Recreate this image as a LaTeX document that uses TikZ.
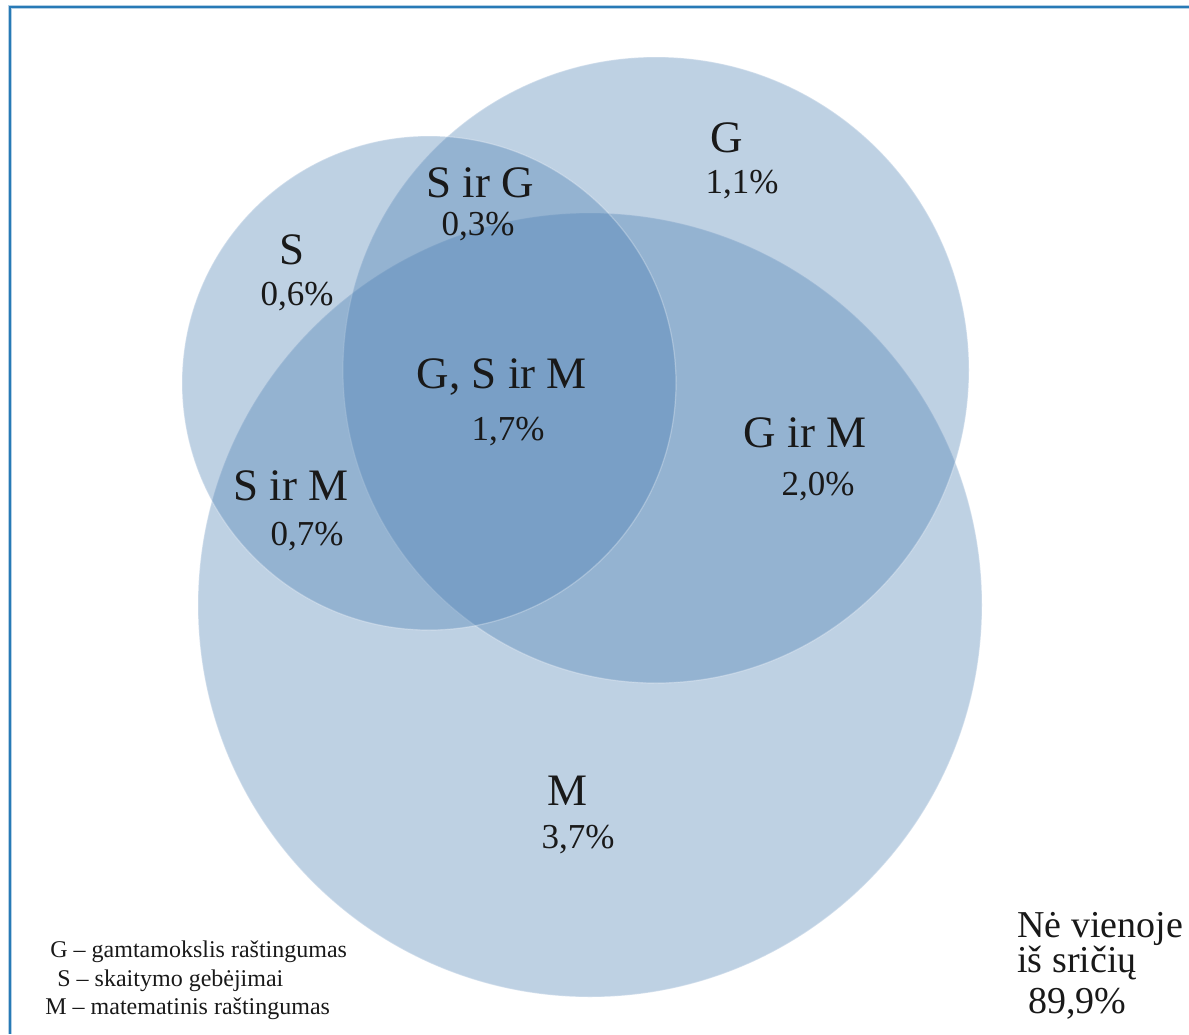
\documentclass[tikz,border=0pt]{standalone}
\usepackage{fontspec}
\setmainfont{Liberation Serif}
\definecolor{vennfill}{RGB}{70,123,176}
\definecolor{framecol}{RGB}{40,122,182}
\tikzset{
  venn/.style={fill=vennfill,fill opacity=0.35,draw=white,draw opacity=0.28,line width=0.6pt},
  lab/.style={anchor=base,inner sep=0pt,font=\fontsize{22.5}{27}\selectfont,text=black!90},
  num/.style={anchor=base,inner sep=0pt,font=\fontsize{17.5}{21}\selectfont,text=black!90},
  leg/.style={anchor=base west,inner sep=0pt,font=\fontsize{12}{14}\selectfont,text=black!90},
  rest/.style={anchor=base west,inner sep=0pt,font=\fontsize{19}{22}\selectfont,text=black!90}
}
\begin{document}
\begin{tikzpicture}[x=0.5pt,y=-0.5pt]
\useasboundingbox (0,0) rectangle (1189,1034);
\coordinate (tr) at (1189,7);
\coordinate (tl) at (10,7);
\coordinate (bl) at (10,1034);
\draw[framecol!35,line width=2.4pt] (tr) -- (tl) -- (bl);
\draw[framecol,line width=1.2pt] (tr) -- (tl) -- (bl);
% circles
\path[venn] (590,605) circle[radius=196pt];
\path[venn] (656,370) circle[radius=156.5pt];
\path[venn] (429,383) circle[radius=123.5pt];
% labels
\node[lab] (g) at (727,152) {G};
\node[num] (gv) at (742,193) {1,1\%};
\node[lab] (sg) at (480,197) {S ir G};
\node[num] (sgv) at (478,235) {0,3\%};
\node[lab] (s) at (292,264) {S};
\node[num] (sv) at (297,305) {0,6\%};
\node[lab] (gsm) at (502,388) {G, S ir M};
\node[num] (gsmv) at (508,440) {1,7\%};
\node[lab] (gm) at (805,447) {G ir M};
\node[num] (gmv) at (818,495) {2,0\%};
\node[lab] (sm) at (291,500) {S ir M};
\node[num] (smv) at (307,545) {0,7\%};
\node[lab] (m) at (567,805) {M};
\node[num] (mv) at (578,848) {3,7\%};
% legend
\node[leg] (l1) at (50,957) {G – gamtamokslis raštingumas};
\node[leg] (l2) at (57,986) {S – skaitymo gebėjimai};
\node[leg] (l3) at (45,1014) {M – matematinis raštingumas};
% none
\node[rest] (n1) at (1017,937) {Nė vienoje};
\node[rest] (n2) at (1017,972) {iš sričių};
\node[rest] (n3) at (1028,1013) {89,9\%};
\end{tikzpicture}
\end{document}
